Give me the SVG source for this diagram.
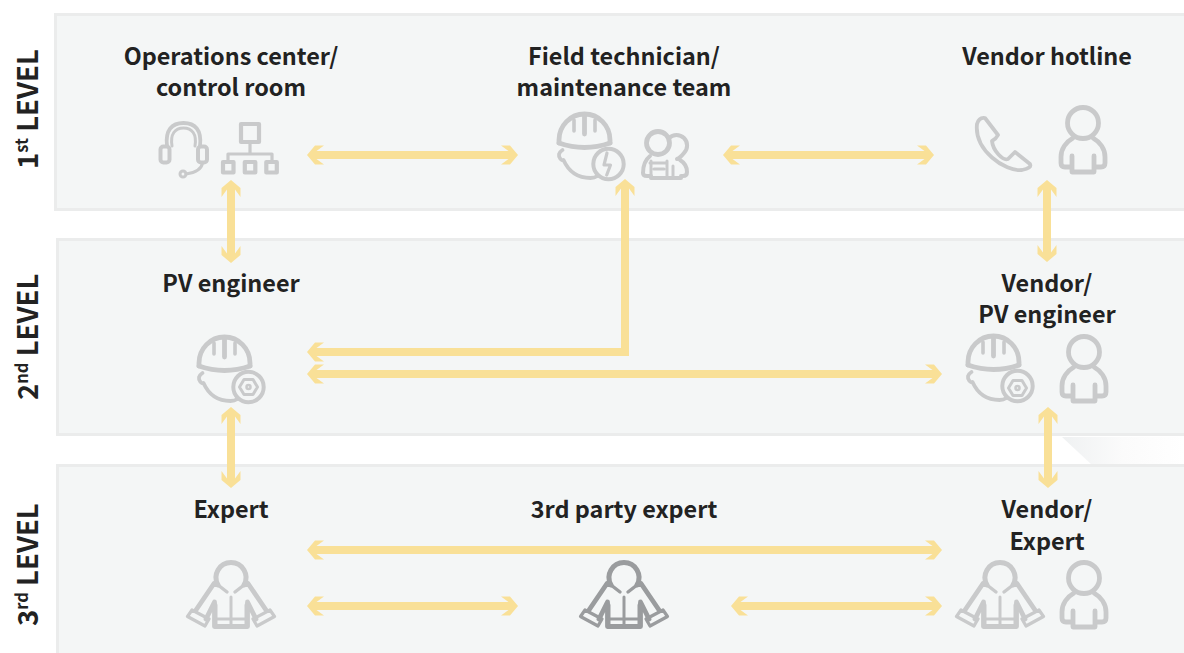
<svg xmlns="http://www.w3.org/2000/svg" xmlns:xlink="http://www.w3.org/1999/xlink" width="1184" height="653" viewBox="0 0 1184 653">
<style>
.panel{fill:#f4f6f6;stroke:#ebecec;stroke-width:3}
.t{font-family:"Noto Sans CJK SC","Noto Sans",sans-serif;font-weight:700;font-size:23.4px;fill:#222;text-anchor:middle}
.lv{font-family:"Noto Sans CJK SC","Noto Sans",sans-serif;font-weight:700;font-size:27.500px;fill:#222}
.sup{font-size:16.500px}
.ic{fill:none;stroke:#c9cacb;stroke-width:4.800;stroke-linecap:round;stroke-linejoin:round}
.dark{stroke:#9a9c9e}
.c{fill:none;stroke:#f9e097;stroke-width:8}
</style>
<defs>
<linearGradient id="sh" x1="0" y1="0" x2="1" y2="0"><stop offset="0" stop-color="#eff1f2"/><stop offset="0.5" stop-color="#fbfbfb"/><stop offset="1" stop-color="#fff"/></linearGradient>
<marker id="h" viewBox="-18 -11 18 22" refX="-9" refY="0" markerWidth="18" markerHeight="22" markerUnits="userSpaceOnUse" orient="auto-start-reverse">
<polygon points="0,0 -8,-9.500 -17,-9.500 -9.500,-4 -9.500,4 -17,9.500 -8,9.500" fill="#f9e097"/>
</marker>
<g id="person">
<circle cx="0" cy="0" r="15.500"/>
<path d="M-10,15C-17,19 -22,26 -22,34V40Q-22,44 -18,44H-11V49H11V44H18Q22,44 22,40V34C22,26 17,19 10,15M-11,33V49M11,33V49"/>
</g>
<g id="helmet">
<path d="M-25.500,-2V-5A25.500,26 0 0 1 25.500,-5V-2"/>
<path d="M-25.500,-2Q0,7 25.500,-2"/>
<path d="M0,-29V-11" stroke-width="4.800"/>
<path d="M-10.500,-25V-14M10.500,-25V-14" stroke-width="3.600"/>
<path d="M-22,5Q-28,9 -24,14Q-22,16 -21,15C-17,24 -9,33 6,33Q10,33 13,31" stroke-width="3.800"/>
<circle cx="24" cy="19" r="15.200" stroke-width="4"/>
</g>
<g id="jacket">
<path d="M-13,7A15,15 0 1 1 13,7" stroke-width="5"/>
<path d="M-13,7L-4,14M13,7L4,14" stroke-width="3.400"/>
<path d="M-17,5.500L-35,32M17,5.500L35,32"/>
<path d="M-39,32L-43.500,38.500L-26,48L-22,41ZM39,32L43.500,38.500L26,48L22,41Z" stroke-width="3.200"/>
<path d="M-25,41L-16.500,24V48.500H16.500V24L25,41"/>
<path d="M-15.500,27V48M15.500,27V48" stroke-width="4"/>
<path d="M0,19V47M-16,41H16" stroke-width="3"/>
<path d="M-17,6.500H-14M17,6.500H14"/>
</g>
</defs>

<g id="panels">
<rect class="panel" x="55.500" y="14.500" width="1140" height="195"/>
<polygon points="1062,437 1184,437 1184,465 1092,465" fill="url(#sh)"/>
<rect class="panel" x="57.500" y="239.500" width="1140" height="195"/>
<rect class="panel" x="57.500" y="465.500" width="1140" height="200"/>
</g>

<g id="level-labels">
<text class="lv" transform="translate(38,169) rotate(-90)">1<tspan class="sup" dy="-10">st</tspan><tspan dy="10"> LEVEL</tspan></text>
<text class="lv" transform="translate(38,400) rotate(-90)">2<tspan class="sup" dy="-10">nd</tspan><tspan dy="10"> LEVEL</tspan></text>
<text class="lv" transform="translate(38,626) rotate(-90)">3<tspan class="sup" dy="-10">rd</tspan><tspan dy="10"> LEVEL</tspan></text>
</g>

<g id="connectors">
<line class="c" x1="316" y1="155" x2="509" y2="155" marker-start="url(#h)" marker-end="url(#h)"/>
<line class="c" x1="732" y1="155" x2="925" y2="155" marker-start="url(#h)" marker-end="url(#h)"/>
<line class="c" x1="231" y1="189" x2="231" y2="254" marker-start="url(#h)" marker-end="url(#h)"/>
<line class="c" x1="1047" y1="189" x2="1047" y2="253" marker-start="url(#h)" marker-end="url(#h)"/>
<polyline class="c" points="625,188 625,352 316,352" marker-start="url(#h)" marker-end="url(#h)"/>
<line class="c" x1="316" y1="374" x2="933" y2="374" marker-start="url(#h)" marker-end="url(#h)"/>
<line class="c" x1="231" y1="416" x2="231" y2="479" marker-start="url(#h)" marker-end="url(#h)"/>
<line class="c" x1="1048" y1="416" x2="1048" y2="479" marker-start="url(#h)" marker-end="url(#h)"/>
<line class="c" x1="316" y1="550" x2="933" y2="550" marker-start="url(#h)" marker-end="url(#h)"/>
<line class="c" x1="316" y1="606" x2="509" y2="606" marker-start="url(#h)" marker-end="url(#h)"/>
<line class="c" x1="740" y1="606" x2="933" y2="606" marker-start="url(#h)" marker-end="url(#h)"/>
</g>

<g id="node-operations">
<text class="t" x="231" y="65">Operations center/</text>
<text class="t" x="231" y="96">control room</text>
<g class="ic">
<path d="M167,146C165,130 172,123 183.500,123C195,123 202,130 200,146" stroke-width="3.800"/>
<path d="M172,146C170,134 175,128 183.500,128C192,128 197,134 195,146" stroke-width="3"/>
<rect x="160.500" y="146.500" width="9" height="16" rx="3" stroke-width="4"/>
<rect x="198" y="146.500" width="9" height="16" rx="3" stroke-width="4"/>
<path d="M202.500,163Q201,172 186,174" stroke-width="3"/>
<circle cx="183" cy="174" r="3" stroke-width="3"/>
<rect x="241" y="124" width="18" height="18" stroke-width="4.200"/>
<path d="M250,142V154M228,160V154H272V160" stroke-width="3.200"/>
<rect x="223" y="162" width="10.500" height="10.500" stroke-width="4.200"/>
<rect x="244.800" y="162" width="10.500" height="10.500" stroke-width="4.200"/>
<rect x="266.300" y="162" width="10.500" height="10.500" stroke-width="4.200"/>
</g>
</g>

<g id="node-field">
<text class="t" x="624" y="65">Field technician/</text>
<text class="t" x="624" y="96">maintenance team</text>
<g class="ic">
<use href="#helmet" x="584.500" y="145"/>
<path d="M607,153L604,165H610.500L606.700,175" stroke-width="3.200"/>
<circle cx="658" cy="143" r="11.500"/>
<path d="M669,138A9.500,9.500 0 0 1 684,153Q680,158 677,159" stroke-width="4"/>
<path d="M650,156C645,160 643,165 643,173Q643,176 647,176H651V178H681V176H683Q687,176 687,172C687,168 685,163 680,160" stroke-width="4"/>
<path d="M651,161V176M667,161V176M650,163H667M654,169H664M673,166V176" stroke-width="3"/>
</g>
</g>

<g id="node-vendor-hotline">
<text class="t" x="1047" y="65">Vendor hotline</text>
<g class="ic">
<path d="M985,118L998,135Q996,139 992,141C993,151 1003,161 1008,159L1015,152L1030,164Q1032,168 1022,170C1005,172 974,150 977,124Q979,117 985,118Z" stroke-width="3.800"/>
<use href="#person" x="1083" y="123"/>
</g>
</g>

<g id="node-pv-engineer">
<text class="t" x="231" y="292">PV engineer</text>
<g class="ic">
<use href="#helmet" x="224.500" y="368"/>
<polygon points="239.500,387 244,379.500 253,379.500 257.500,387 253,394.500 244,394.500" stroke-width="3"/>
<circle cx="248.500" cy="387" r="2" stroke-width="2.500"/>
</g>
</g>

<g id="node-vendor-pv-engineer">
<text class="t" x="1047" y="292">Vendor/</text>
<text class="t" x="1047" y="323">PV engineer</text>
<g class="ic">
<use href="#helmet" x="993.500" y="367"/>
<polygon points="1008.500,388 1013,380.500 1022,380.500 1026.500,388 1022,395.500 1013,395.500" stroke-width="3"/>
<circle cx="1017.500" cy="388" r="2" stroke-width="2.500"/>
<use href="#person" x="1084" y="352"/>
</g>
</g>

<g id="node-expert">
<text class="t" x="231" y="518">Expert</text>
<g class="ic"><use href="#jacket" x="231" y="578"/></g>
</g>

<g id="node-third-party">
<text class="t" x="624" y="518">3rd party expert</text>
<g class="ic dark"><use href="#jacket" x="624" y="578"/></g>
</g>

<g id="node-vendor-expert">
<text class="t" x="1047" y="518">Vendor/</text>
<text class="t" x="1047" y="550">Expert</text>
<g class="ic">
<use href="#jacket" x="1000" y="578"/>
<use href="#person" x="1084" y="578"/>
</g>
</g>
</svg>
